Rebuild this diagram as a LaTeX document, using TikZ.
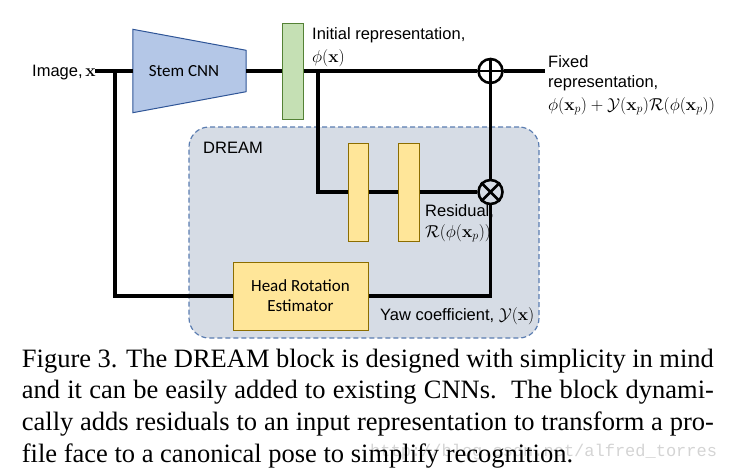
\documentclass[tikz,border=0pt]{standalone}
\usepackage[no-math]{fontspec}
\setmainfont{Liberation Serif}
\newfontfamily\arialf{Liberation Sans}
\newfontfamily\calib{Carlito}
\newfontfamily\wmono{Liberation Mono}
\definecolor{stemfill}{HTML}{B4C7E7}
\definecolor{stemdraw}{HTML}{2F5597}
\definecolor{phifill}{HTML}{C5E0B4}
\definecolor{phidraw}{HTML}{548235}
\definecolor{yelfill}{HTML}{FFE699}
\definecolor{yeldraw}{HTML}{8C6D00}
\definecolor{dreamfill}{HTML}{D6DCE5}
\definecolor{dreamdraw}{HTML}{5B7DB1}
\definecolor{wmgray}{HTML}{D4D4D4}
\begin{document}
\begin{tikzpicture}[x=1pt,y=-1pt,
  wire/.style={line width=3.8pt, draw=black},
  ring/.style={circle, draw=black, line width=2.6pt, minimum size=24pt, inner sep=0pt},
  ringline/.style={line width=2.6pt, draw=black},
  lbl/.style={font=\arialf\fontsize{16.5}{20}\selectfont, inner sep=0pt, anchor=base west},
  caplbl/.style={font=\fontsize{26.5}{31.7}\selectfont, inner sep=0pt, anchor=base west},
  yelbar/.style={rectangle, draw=yeldraw, fill=yelfill, line width=1pt, inner sep=0pt},
  dreambox/.style={rectangle, rounded corners=20pt, draw=dreamdraw, fill=dreamfill, line width=1.2pt, dash pattern=on 5pt off 3pt, inner sep=0pt}
]
\useasboundingbox (0,0) rectangle (731,471);

% DREAM container
\node[dreambox, minimum width=350pt, minimum height=211pt] (dream) at (364,232.5) {};
\node[lbl] (dreamlbl) at (203,153) {DREAM};

% invisible anchor frame for the stem CNN
\node[inner sep=0pt, minimum width=113pt, minimum height=83pt] (stem) at (189.5,71) {};
\draw[draw=stemdraw, fill=stemfill, line width=1pt]
  (stem.north west) -- ([yshift=-21pt]stem.north east) -- ([yshift=21pt]stem.south east) -- (stem.south west) -- cycle;
\node[font=\calib\fontsize{17}{20}\selectfont, inner sep=0pt] (stemlbl) at (184,71) {Stem CNN};

% blocks
\node[rectangle, draw=phidraw, fill=phifill, line width=1pt, minimum width=21pt, minimum height=96pt, inner sep=0pt] (phi) at (292.5,71) {};
\node[yelbar, minimum width=20pt, minimum height=98pt] (bara) at (358,192) {};
\node[yelbar, minimum width=21pt, minimum height=98pt] (barb) at (408.5,192) {};
\node[yelbar, minimum width=135pt, minimum height=68pt, align=center,
      font=\calib\fontsize{17}{20}\selectfont] (hre) at (300.5,296) {Head Rotation\\Estimator};
\node[ring] (plus) at (490.5,71) {};
\node[ring] (times) at (490.5,192) {};
\draw[ringline] (plus.north) -- (plus.south) (plus.west) -- (plus.east);
\draw[ringline] (times.north east) -- (times.south west) (times.north west) -- (times.south east);

% coordinates
\coordinate (in) at (95,71);
\coordinate (out) at (545,71);
\coordinate (brA) at (115,71);
\coordinate (brB) at (318,71);

% wires
\draw[wire] (in) -- (stem.west);
\draw[wire] (stem.east) -- (phi.west);
\draw[wire] (phi.east) -- (plus.west);
\draw[wire] (plus.east) -- (out);
\draw[wire] (brB) |- (bara.west);
\draw[wire] (bara.east) -- (barb.west);
\draw[wire] (barb.east) -- (times.west);
\draw[wire] (plus.south) -- (times.north);
\draw[wire] (times.south) |- (hre.east);
\draw[wire] (brA) |- (hre.west);

% labels
\node[lbl] (imglbl) at (32,76) {Image,\,$\mathbf{x}$};
\node[lbl] (init1) at (312,39) {Initial representation,};
\node[lbl] (init2) at (312,62) {$\phi(\mathbf{x})$};
\node[lbl] (fix1) at (548,67) {Fixed};
\node[lbl] (fix2) at (548,87) {representation,};
\node[lbl] (fix3) at (548,110) {$\phi(\mathbf{x}_p)+\mathcal{Y}(\mathbf{x}_p)\mathcal{R}(\phi(\mathbf{x}_p))$};
\node[lbl] (res1) at (425,216) {Residual,};
\node[lbl] (res2) at (425,237) {$\mathcal{R}(\phi(\mathbf{x}_p))$};
\node[lbl] (yaw) at (380,320) {Yaw coefficient, $\mathcal{Y}(\mathbf{x})$};

% watermark
\node[inner sep=0pt, anchor=base west, font=\wmono\fontsize{17}{20}\selectfont, text=wmgray] (wm) at (370,456) {http://blog.csdn.net/alfred\_torres};

% caption
\node[caplbl] (cap1) at (21.7,367.3) {\makebox[692pt][s]{Figure 3. The DREAM block is designed with simplicity in mind}};
\node[caplbl] (cap2) at (21.7,398.9) {\makebox[692pt][s]{and it can be easily added to existing CNNs.\ \ The block dynami-}};
\node[caplbl] (cap3) at (21.7,430.5) {\makebox[692pt][s]{cally adds residuals to an input representation to transform a pro-}};
\node[caplbl] (cap4) at (21.7,462) {file face to a canonical pose to simplify recognition.};
\end{tikzpicture}
\end{document}
